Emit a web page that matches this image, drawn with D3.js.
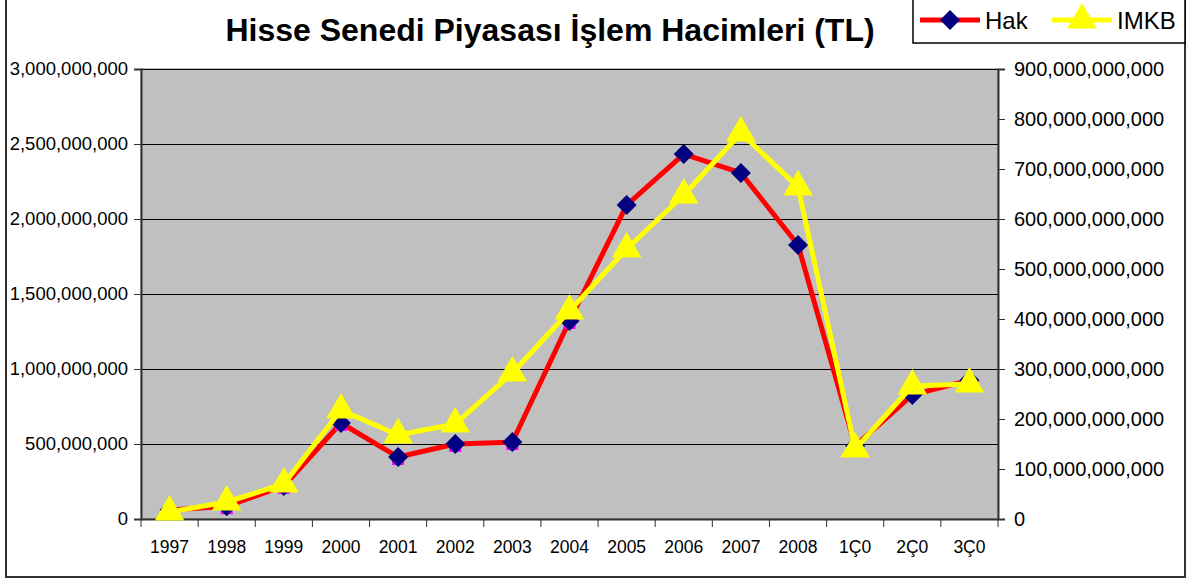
<!DOCTYPE html>
<html>
<head>
<meta charset="utf-8">
<script src="https://cdn.jsdelivr.net/npm/d3@7"></script>
<style>
  body { margin: 0; background: #fff; }
  text { font-family: "Liberation Sans", Arial, sans-serif; fill: #000; }
</style>
</head>
<body>
<div id="chart"></div>
<script>
var years = ["1997","1998","1999","2000","2001","2002","2003","2004","2005","2006","2007","2008","1Ç0","2Ç0","3Ç0"];
// Hak (left axis, TL)
var hak = [60e6, 85e6, 220e6, 640e6, 413e6, 500e6, 513e6, 1320e6, 2093e6, 2433e6, 2307e6, 1827e6, 487e6, 827e6, 925e6];
// IMKB (right axis, TL)
var imkb = [14e9, 34e9, 70e9, 218e9, 168e9, 190e9, 292e9, 416e9, 540e9, 648e9, 772e9, 664e9, 140e9, 266e9, 270e9];
var leftTicks = [0, 500e6, 1000e6, 1500e6, 2000e6, 2500e6, 3000e6];
var rightTicks = [0, 100e9, 200e9, 300e9, 400e9, 500e9, 600e9, 700e9, 800e9, 900e9];

var W = 1187, H = 580;
var plot = {left: 141, right: 998, top: 69, bottom: 519};

var svg = d3.select("#chart").append("svg")
  .attr("width", W)
  .attr("height", H);

// outer frame
svg.append("rect")
  .attr("x", 6).attr("y", -2)
  .attr("width", 1179).attr("height", 579)
  .attr("fill", "none").attr("stroke", "#333").attr("stroke-width", 2);

var x = d3.scaleBand().domain(years).range([plot.left, plot.right]);
var yL = d3.scaleLinear().domain([0, 3000e6]).range([plot.bottom, plot.top]);
var yR = d3.scaleLinear().domain([0, 900e9]).range([plot.bottom, plot.top]);

// plot area
svg.append("rect")
  .attr("x", plot.left).attr("y", plot.top)
  .attr("width", plot.right - plot.left).attr("height", plot.bottom - plot.top)
  .attr("fill", "#c0c0c0").attr("stroke", "#808080").attr("stroke-width", 1);

// gridlines
svg.append("g").selectAll("line")
  .data(leftTicks.slice(1))
  .enter().append("line")
  .attr("x1", plot.left).attr("x2", plot.right)
  .attr("y1", function(d){ return Math.round(yL(d)) + 0.5; })
  .attr("y2", function(d){ return Math.round(yL(d)) + 0.5; })
  .attr("stroke", "#000").attr("stroke-width", 1);

var fmt = d3.format(",");

// left axis
var gl = svg.append("g")
  .attr("transform", "translate(" + plot.left + ",0)")
  .call(d3.axisLeft(yL).tickValues(leftTicks).tickFormat(fmt).tickSize(7).tickPadding(6));
gl.selectAll("text").style("font-size", "18.5px");

// right axis
var gr = svg.append("g")
  .attr("transform", "translate(" + plot.right + ",0)")
  .call(d3.axisRight(yR).tickValues(rightTicks).tickFormat(fmt).tickSize(7).tickPadding(9));
gr.selectAll("text").style("font-size", "20px");

// bottom axis: ticks on category edges
var gb = svg.append("g")
  .attr("transform", "translate(0," + plot.bottom + ")")
  .call(d3.axisBottom(x).tickSize(0).tickPadding(22));
gb.selectAll("text").style("font-size", "17.5px");
gb.append("g").selectAll("line")
  .data(years.concat(["end"]))
  .enter().append("line")
  .attr("x1", function(d, i){ return plot.left + i * x.step(); })
  .attr("x2", function(d, i){ return plot.left + i * x.step(); })
  .attr("y1", 0).attr("y2", 8)
  .attr("stroke", "#333");

svg.selectAll(".domain").attr("stroke", "#333").attr("stroke-width", 2);
svg.selectAll(".tick line").attr("stroke", "#333");

function cx(d, i) { return x(years[i]) + x.bandwidth() / 2; }

// Hak line
var lineL = d3.line().x(function(d, i){ return cx(d, i); }).y(function(d){ return yL(d); });
svg.append("path").datum(hak)
  .attr("d", lineL).attr("fill", "none")
  .attr("stroke", "#ff0000").attr("stroke-width", 5).attr("stroke-linejoin", "round");

// faint magenta squares behind early diamonds
svg.append("g").selectAll("rect")
  .data(hak.slice(0, 8))
  .enter().append("rect")
  .attr("x", function(d, i){ return cx(d, i) - 6; })
  .attr("y", function(d){ return yL(d) - 4; })
  .attr("width", 12).attr("height", 12)
  .attr("fill", "#ff00ff");

var diamond = d3.symbol().type(d3.symbolSquare).size(200);
svg.append("g").selectAll("path")
  .data(hak)
  .enter().append("path")
  .attr("d", diamond)
  .attr("transform", function(d, i){ return "translate(" + cx(d, i) + "," + yL(d) + ") rotate(45)"; })
  .attr("fill", "#000080");

// IMKB line
var lineR = d3.line().x(function(d, i){ return cx(d, i); }).y(function(d){ return yR(d); });
svg.append("path").datum(imkb)
  .attr("d", lineR).attr("fill", "none")
  .attr("stroke", "#ffff00").attr("stroke-width", 5).attr("stroke-linejoin", "round");

var tri = d3.symbol().type(d3.symbolTriangle).size(380);
svg.append("g").selectAll("path")
  .data(imkb)
  .enter().append("path")
  .attr("d", tri)
  .attr("transform", function(d, i){ return "translate(" + cx(d, i) + "," + yR(d) + ")"; })
  .attr("fill", "#ffff00");

// title
svg.append("text")
  .attr("x", 550).attr("y", 41)
  .attr("text-anchor", "middle")
  .style("font-size", "32px").style("font-weight", "bold")
  .text("Hisse Senedi Piyasası İşlem Hacimleri (TL)");

// legend
var lg = svg.append("g");
lg.append("rect")
  .attr("x", 913).attr("y", -2).attr("width", 272).attr("height", 45)
  .attr("fill", "#fff").attr("stroke", "#000").attr("stroke-width", 1.5);
var legendItems = [
  {name: "Hak", color: "#ff0000", x0: 920, type: "d"},
  {name: "IMKB", color: "#ffff00", x0: 1052, type: "t"}
];
legendItems.forEach(function(it) {
  lg.append("line")
    .attr("x1", it.x0).attr("x2", it.x0 + 60)
    .attr("y1", 20).attr("y2", 20)
    .attr("stroke", it.color).attr("stroke-width", 5);
  lg.append("path")
    .attr("d", it.type == "d" ? diamond : tri)
    .attr("transform", "translate(" + (it.x0 + 30) + ",20)" + (it.type == "d" ? " rotate(45)" : ""))
    .attr("fill", it.type == "d" ? "#000080" : "#ffff00");
  lg.append("text")
    .attr("x", it.x0 + 65).attr("y", 29)
    .style("font-size", "24px")
    .text(it.name);
});
</script>
</body>
</html>
